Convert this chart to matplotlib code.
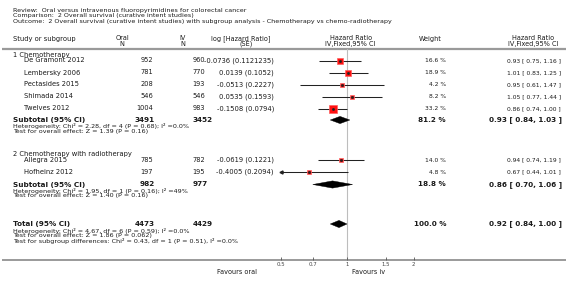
import matplotlib
matplotlib.use("Agg")
import matplotlib.pyplot as plt
import numpy as np
from matplotlib.patches import Polygon

plt.rcParams['font.family'] = ['DejaVu Sans']

# ---------------- data ----------------
title_lines = [
    "Review:  Oral versus intravenous fluoropyrimidines for colorectal cancer",
    "Comparison:  2 Overall survival (curative intent studies)",
    "Outcome:  2 Overall survival (curative intent studies) with subgroup analysis - Chemotherapy vs chemo-radiotherapy",
]
groups = ["1 Chemotherapy", "2 Chemotherapy with radiotherapy"]
studies = ["De Gramont 2012", "Lembersky 2006", "Pectasides 2015", "Shimada 2014",
           "Twelves 2012", "Allegra 2015", "Hofheinz 2012"]
study_group = [0, 0, 0, 0, 0, 1, 1]
oral_n = [952, 781, 208, 546, 1004, 785, 197]
iv_n = [960, 770, 193, 546, 983, 782, 195]
log_hr = ["-0.0736", "0.0139", "-0.0513", "0.0535", "-0.1508", "-0.0619", "-0.4005"]
log_se = ["0.1121235", "0.1052", "0.2227", "0.1593", "0.0794", "0.1221", "0.2094"]
hr = [0.93, 1.01, 0.95, 1.05, 0.86, 0.94, 0.67]
hr_lo = [0.75, 0.83, 0.61, 0.77, 0.74, 0.74, 0.44]
hr_hi = [1.16, 1.25, 1.47, 1.44, 1.00, 1.19, 1.01]
weight = [16.6, 18.9, 4.2, 8.2, 33.2, 14.0, 4.8]

sub_oral = [3491, 982]
sub_iv = [3452, 977]
sub_hr = [0.93, 0.86]
sub_lo = [0.84, 0.70]
sub_hi = [1.03, 1.06]
sub_weight = [81.2, 18.8]
sub_het = ["Heterogeneity: Chi\u00b2 = 2.28, df = 4 (P = 0.68); I\u00b2 =0.0%",
           "Heterogeneity: Chi\u00b2 = 1.95, df = 1 (P = 0.16); I\u00b2 =49%"]
sub_test = ["Test for overall effect: Z = 1.39 (P = 0.16)",
            "Test for overall effect: Z = 1.40 (P = 0.16)"]

tot_oral = 4473
tot_iv = 4429
tot_hr = 0.92
tot_lo = 0.84
tot_hi = 1.00
tot_weight = 100.0
tot_notes = ["Heterogeneity: Chi\u00b2 = 4.67, df = 6 (P = 0.59); I\u00b2 =0.0%",
             "Test for overall effect: Z = 1.86 (P = 0.062)",
             "Test for subgroup differences: Chi\u00b2 = 0.43, df = 1 (P = 0.51), I\u00b2 =0.0%"]

x_ticks = [0.5, 0.7, 1, 1.5, 2]
x_tick_labels = ["0.5", "0.7", "1", "1.5", "2"]
favours = ["Favours oral", "Favours iv"]

# ---------------- layout (pixels) ----------------
W, H = 566, 284
DPI = 100
title_y = [10.5, 16, 21.5]
head_y1, head_y2 = 38.5, 44
head_line_y = 49
group_y = [54.5, 154]
study_y = [60.5, 72.5, 84.5, 96.5, 108.5, 160, 172]
sub_y = [120, 184.5]
tot_y = 224
axis_y = 260
plot_x0, plot_x1 = 280.5, 413.5

fs_title = 4.55
fs_note = 4.55
fs_head = 4.7
fs_name = 4.9
fs_n = 4.8
fs_log = 4.9
fs_right = 4.3
fs_b = 5.2
col = "#1a1a1a"

fig = plt.figure(figsize=(W / DPI, H / DPI), dpi=DPI)
bg = fig.add_axes([0, 0, 1, 1])
bg.set_xlim(0, W)
bg.set_ylim(H, 0)
bg.axis("off")

fa = fig.add_axes([plot_x0 / W, (H - axis_y) / H, (plot_x1 - plot_x0) / W,
                   (axis_y - head_line_y) / H])
fa.set_xscale("log")
fa.set_xlim(x_ticks[0], x_ticks[-1])
fa.set_ylim(axis_y, head_line_y)
fa.patch.set_alpha(0)
for s in fa.spines.values():
    s.set_visible(False)
fa.set_yticks([])
fa.set_xticks(x_ticks)
fa.set_xticklabels(x_tick_labels)
fa.xaxis.set_minor_locator(matplotlib.ticker.NullLocator())
fa.tick_params(axis="x", direction="in", length=2.5, width=0.6, color="#555555",
               labelsize=3.9, labelcolor="#444444", pad=1.2)

def txt(x, y, s, ha="left", size=fs_name, weight="normal", color=col):
    bg.text(x, y, s, ha=ha, va="center", fontsize=size, fontweight=weight, color=color)

# titles
for y, s in zip(title_y, title_lines):
    txt(13, y, s, size=fs_title)

# headers
txt(13, head_y1, "Study or subgroup", size=fs_name)
txt(122.5, head_y1, "Oral", ha="center", size=fs_head); txt(122, head_y2, "N", ha="center", size=fs_head)
txt(182.5, head_y1, "IV", ha="center", size=fs_head); txt(182.5, head_y2, "N", ha="center", size=fs_head)
txt(241, head_y1, "log [Hazard Ratio]", ha="center", size=fs_head)
txt(246, head_y2, "(SE)", ha="center", size=fs_head)
txt(351.5, head_y1, "Hazard Ratio", ha="center", size=fs_head)
txt(350, head_y2, "IV,Fixed,95% CI", ha="center", size=fs_head)
txt(430, head_y1, "Weight", ha="center", size=fs_head)
txt(533, head_y1, "Hazard Ratio", ha="center", size=fs_head)
txt(533, head_y2, "IV,Fixed,95% CI", ha="center", size=fs_head)
bg.plot([2, W], [head_line_y, head_line_y], color="#9a9a9a", lw=1.6, solid_capstyle="butt")

# reference line at 1
fa.axvline(1, color="#bdbdbd", lw=0.8, zorder=1)

# axis line
bg.plot([2, W], [axis_y, axis_y], color="#9a9a9a", lw=1.4, solid_capstyle="butt")

# group labels
for g, y in zip(groups, group_y):
    txt(13, y, g, size=fs_name)

# studies
for i, name in enumerate(studies):
    y = study_y[i]
    txt(23.5, y, name, size=fs_name)
    txt(153, y, str(oral_n[i]), ha="right", size=fs_n)
    txt(192.5, y, str(iv_n[i]), ha="left", size=fs_n)
    txt(274, y, f"{log_hr[i]} ({log_se[i]})", ha="right", size=fs_log)
    txt(446, y, f"{weight[i]:.1f} %", ha="right", size=fs_right)
    txt(561, y, f"{hr[i]:.2f} [ {hr_lo[i]:.2f}, {hr_hi[i]:.2f} ]", ha="right", size=fs_right)
    lo = max(hr_lo[i], x_ticks[0])
    hi = min(hr_hi[i], x_ticks[-1])
    fa.plot([lo, hi], [y, y], color="#222222", lw=0.75, zorder=3, solid_capstyle="butt")
    if hr_lo[i] < x_ticks[0]:
        fa.plot([x_ticks[0]], [y], marker="<", ms=2.2, color="#222222", zorder=4, clip_on=False)
    side = (1.1 * np.sqrt(weight[i]) + 0.8) * 72 / DPI
    fa.plot([hr[i]], [y], marker="s", ms=side, mfc="#ff1010", mec="#ff6060",
            mew=0.5, zorder=5, linestyle="none")
    fa.plot([hr[i]], [y], marker="s", ms=0.9, color="#202020", zorder=6, linestyle="none")

def diamond(est, lo, hi, y, h=3.6):
    pts = [(lo, y), (est, y - h), (hi, y), (est, y + h)]
    fa.add_patch(Polygon(pts, closed=True, facecolor="black", edgecolor="black", lw=0.3, zorder=5))

# subtotals
for k in range(2):
    y = sub_y[k]
    txt(13, y, "Subtotal (95% CI)", size=fs_b, weight="bold")
    txt(155, y, str(sub_oral[k]), ha="right", size=fs_b, weight="bold")
    txt(192.5, y, str(sub_iv[k]), ha="left", size=fs_b, weight="bold")
    txt(446, y, f"{sub_weight[k]:.1f} %", ha="right", size=fs_b, weight="bold")
    txt(562, y, f"{sub_hr[k]:.2f} [ {sub_lo[k]:.2f}, {sub_hi[k]:.2f} ]", ha="right",
        size=fs_b, weight="bold")
    diamond(sub_hr[k], sub_lo[k], sub_hi[k], y)
    txt(13, y + 6, sub_het[k], size=fs_note)
    txt(13, y + 11.5, sub_test[k], size=fs_note)

# total
txt(13, tot_y, "Total (95% CI)", size=fs_b, weight="bold")
txt(155, tot_y, str(tot_oral), ha="right", size=fs_b, weight="bold")
txt(192.5, tot_y, str(tot_iv), ha="left", size=fs_b, weight="bold")
txt(446, tot_y, f"{tot_weight:.1f} %", ha="right", size=fs_b, weight="bold")
txt(562, tot_y, f"{tot_hr:.2f} [ {tot_lo:.2f}, {tot_hi:.2f} ]", ha="right", size=fs_b, weight="bold")
diamond(tot_hr, tot_lo, tot_hi, tot_y)
for j, s in enumerate(tot_notes):
    txt(13, tot_y + 6.5 + 5.5 * j, s, size=fs_note)

# favours
txt(257, 271.5, favours[0], ha="right", size=fs_head)
txt(351.5, 271.5, favours[1], ha="left", size=fs_head)

fig.savefig("out.png", dpi=DPI)
